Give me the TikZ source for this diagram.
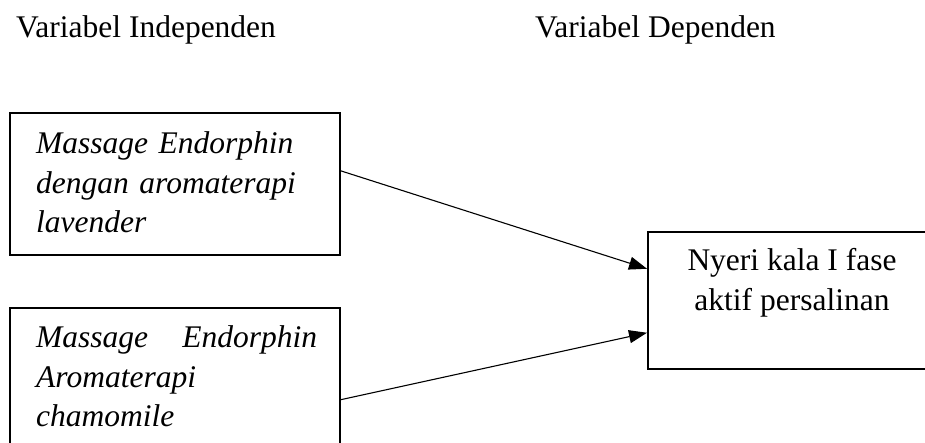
\documentclass[tikz,border=0pt]{standalone}
\usepackage{fontspec}
\setmainfont{Liberation Serif}
\usetikzlibrary{arrows.meta}
\begin{document}
\begin{tikzpicture}[x=1pt,y=-1pt,
  frame/.style={draw=black,line width=1.5pt,inner sep=0pt,anchor=north west},
  txt/.style={inner sep=0pt,font=\fontsize{31.5}{39.5}\selectfont},
  arr/.style={line width=1.1pt,-{Triangle[length=18pt,width=13pt]}}]
\useasboundingbox (0,0) rectangle (925,442);
\clip (0,0) rectangle (925,442);
% headings
\node[txt,anchor=base west] (h1) at (16,37) {Variabel Independen};
\node[txt,anchor=base west] (h2) at (535,37) {Variabel Dependen};
% frames
\node[frame,minimum width=330pt,minimum height=142pt] (b1) at (9,112) {};
\node[frame,minimum width=330pt,minimum height=142pt] (b2) at (9,307) {};
\node[frame,minimum width=290pt,minimum height=137pt] (b3) at (647,231) {};
% texts
\node[txt,anchor=north west,text width=281pt,align=left] (t1) at (36,131.5)
  {\itshape Massage Endorphin\\dengan aromaterapi\\lavender};
\node[txt,anchor=north west,text width=281pt,align=left] (t2) at (36,325.5)
  {\itshape Massage\hfill Endorphin\\Aromaterapi\\chamomile};
\node[txt,anchor=north,align=center] (t3) at (792,248.5)
  {Nyeri kala I fase\\aktif persalinan};
% connectors
\draw[arr] ([yshift=13pt]b1.east) -- ([yshift=31.5pt]b3.west);
\draw[arr] ([yshift=-21pt]b2.east) -- ([yshift=-32.5pt]b3.west);
\end{tikzpicture}
\end{document}
